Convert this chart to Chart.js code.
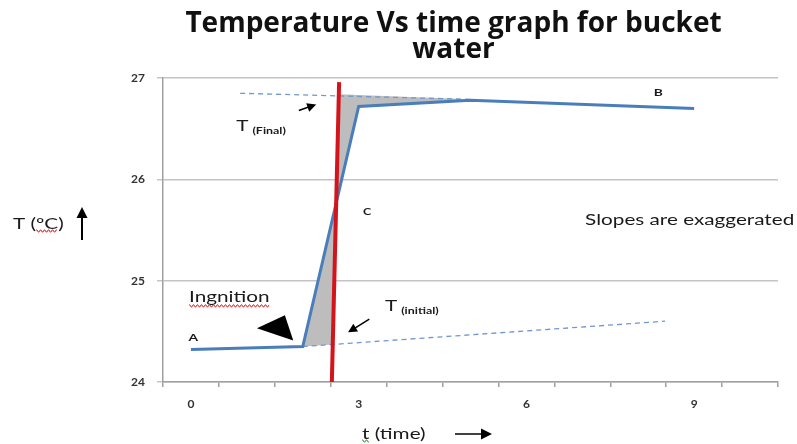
<!DOCTYPE html>
<html>
<head>
<meta charset="utf-8">
<title>Temperature Vs time graph for bucket water</title>
<script src="https://cdn.jsdelivr.net/npm/chart.js"></script>
<style>
html, body { margin: 0; padding: 0; background: #fff; }
</style>
</head>
<body>
<canvas id="temp-chart" width="797" height="444"></canvas>
<script>
// bucket water temperature (category index = time, °C)
const timeSteps = [0, 2, 3, 5, 9];
const bucketTemp = [24.32, 24.35, 26.72, 26.78, 26.70];
// extrapolated lines back to the moment of ignition
const finalLineTime = [0.88, 4.99];
const finalLineTemp = [26.85, 26.79];
const initialLineTime = [2.0, 8.48];
const initialLineTemp = [24.35, 24.60];
// red ignition line
const ignTime = [2.65, 2.52];
const ignTemp = [26.96, 24.0];
// grey equal areas either side of the red line
const upperAreaTime = [2.645, 4.99, 3.0, 2.598, 2.645];
const upperAreaTemp = [26.84, 26.79, 26.72, 25.77, 26.84];
const lowerAreaTime = [2.0, 2.598, 2.536, 2.0];
const lowerAreaTemp = [24.35, 25.77, 24.37, 24.35];
// axes
const xCategories = [0, 1, 2, 3, 4, 5, 6, 7, 8, 9, 10];
const xTickLabels = [0, 3, 6, 9];
const yTicks = [24, 25, 26, 27];

const pts = (xs, ys) => xs.map((x, i) => ({x: x, y: ys[i]}));

const FONT = 'Lato, "Liberation Sans", sans-serif';
const AXIS_GREY = '#a0a0a0';
const GRID_GREY = '#c4c4c4';
const STRETCH = 1.38;   // the source text is wide, so stretch it a bit

// text and arrows drawn over the plot
const notes = {
    id: 'notes',
    afterDraw(chart) {
        const c = chart.ctx, xs = chart.scales.x, ys = chart.scales.y;
        const px = v => xs.getPixelForValue(v), py = v => ys.getPixelForValue(v);

        function text(str, x, y, size, weight, align) {
            c.save();
            c.font = (weight || 'normal') + ' ' + size + 'px ' + FONT;
            c.fillStyle = '#1a1a1a';
            c.textAlign = align || 'left';
            c.textBaseline = 'middle';
            c.translate(x, y);
            c.scale(STRETCH, 1);
            c.fillText(str, 0, 0);
            const w = c.measureText(str).width * STRETCH;
            c.restore();
            return w;
        }
        function wavy(x0, x1, y, color) {
            c.save();
            c.strokeStyle = color; c.lineWidth = 1;
            c.beginPath();
            for (let x = x0; x <= x1; x++) {
                const yy = y + ((x - x0) % 4 < 2 ? -1 : 1);
                if (x === x0) c.moveTo(x, yy); else c.lineTo(x, yy);
            }
            c.stroke();
            c.restore();
        }
        function arrow(x0, y0, x1, y1, head, width) {
            const a = Math.atan2(y1 - y0, x1 - x0);
            c.save();
            c.strokeStyle = '#000'; c.fillStyle = '#000'; c.lineWidth = width;
            c.beginPath();
            c.moveTo(x0, y0);
            c.lineTo(x1 - Math.cos(a) * head * 0.8, y1 - Math.sin(a) * head * 0.8);
            c.stroke();
            c.beginPath();
            c.moveTo(x1, y1);
            c.lineTo(x1 - head * Math.cos(a) + head * 0.5 * Math.sin(a), y1 - head * Math.sin(a) - head * 0.5 * Math.cos(a));
            c.lineTo(x1 - head * Math.cos(a) - head * 0.5 * Math.sin(a), y1 - head * Math.sin(a) + head * 0.5 * Math.cos(a));
            c.closePath();
            c.fill();
            c.restore();
        }

        // point labels
        text('A', px(0.04), py(24.44), 10, 'bold', 'center');
        text('B', px(8.36), py(26.85), 10, 'bold', 'center');
        text('C', px(3.15), py(25.68), 9, 'bold', 'center');

        // ignition + big arrow head
        const w = text('Ingnition', px(-0.035), py(24.84), 15);
        wavy(px(-0.035), px(-0.035) + w, py(24.84) + 9, '#e03030');
        c.beginPath();
        c.moveTo(px(1.18), py(24.53));
        c.lineTo(px(1.68), py(24.66));
        c.lineTo(px(1.83), py(24.41));
        c.closePath();
        c.fillStyle = '#000';
        c.fill();

        // T final
        let tx = px(0.81);
        tx += text('T', tx, py(26.53), 15) + 4;
        text('(Final)', tx, py(26.53) + 5, 9, 'bold');
        arrow(px(1.93), py(26.68), px(2.24), py(26.74), 9, 1.5);

        // T initial
        tx = px(3.47);
        tx += text('T', tx, py(24.75), 15) + 4;
        text('(initial)', tx, py(24.75) + 5, 9, 'bold');
        arrow(px(3.19), py(24.62), px(2.81), py(24.49), 9, 1.5);

        text('Slopes are exaggerated', px(7.05), py(25.6), 15);

        // axis titles
        const yw = text('T (', 13, 224, 15);
        const cw = text('ºC)', 13 + yw, 224, 15);
        wavy(13 + yw, 13 + yw + cw - 6, 231, '#e03030');
        arrow(82, 240, 82, 207, 11, 2);

        text('t (time)', 362, 434, 15);
        wavy(362, 369, 441, '#40a040');
        arrow(455, 434, 492, 434, 11, 1.5);
    }
};

const chart = new Chart(document.getElementById('temp-chart'), {
    type: 'line',
    data: {
        datasets: [
            {label: 'ignition', data: pts(ignTime, ignTemp), borderColor: '#d3151b', borderWidth: 4, pointRadius: 0, order: 0},
            {label: 'bucket water', data: pts(timeSteps, bucketTemp), borderColor: '#4a7ebb', borderWidth: 3, pointRadius: 0, order: 1},
            {label: 'T final', data: pts(finalLineTime, finalLineTemp), borderColor: '#6f98cf', borderWidth: 1.3, borderDash: [5, 4], pointRadius: 0, order: 2},
            {label: 'T initial', data: pts(initialLineTime, initialLineTemp), borderColor: '#6f98cf', borderWidth: 1.3, borderDash: [5, 4], pointRadius: 0, order: 2},
            {label: 'upper area', data: pts(upperAreaTime, upperAreaTemp), fill: 'shape', backgroundColor: '#bdbdbd', borderWidth: 0, borderColor: 'rgba(0,0,0,0)', pointRadius: 0, order: 3},
            {label: 'lower area', data: pts(lowerAreaTime, lowerAreaTemp), fill: 'shape', backgroundColor: '#bdbdbd', borderWidth: 0, borderColor: 'rgba(0,0,0,0)', pointRadius: 0, order: 3}
        ]
    },
    options: {
        responsive: false,
        animation: false,
        devicePixelRatio: 1,
        layout: {padding: {left: 129, right: 19, top: 0, bottom: 32}},
        plugins: {
            legend: {display: false},
            tooltip: {enabled: false},
            title: {
                display: true,
                text: ['Temperature Vs time graph for bucket', 'water'],
                color: '#111',
                font: {family: '"Open Sans", ' + FONT, size: 28, weight: 'bold', lineHeight: 0.93},
                padding: {top: 11, bottom: 15}
            }
        },
        scales: {
            x: {
                type: 'linear',
                min: xCategories[0] - 0.5,
                max: xCategories[xCategories.length - 1] + 0.5,
                afterBuildTicks: s => {
                    const t = [];
                    xCategories.forEach(v => { t.push({value: v - 0.5}); t.push({value: v}); });
                    t.push({value: xCategories[xCategories.length - 1] + 0.5});
                    s.ticks = t;
                },
                afterFit: s => { s.height = 30; },
                ticks: {
                    autoSkip: false, maxRotation: 0, padding: 10,
                    color: '#333', font: {family: FONT, size: 12, weight: 'bold'},
                    callback: v => xTickLabels.includes(v) ? String(v) : ''
                },
                grid: {
                    drawOnChartArea: false, tickLength: 5, lineWidth: 1.5,
                    color: ctx => (ctx.tick && Number.isInteger(ctx.tick.value)) ? 'rgba(0,0,0,0)' : AXIS_GREY
                },
                border: {color: AXIS_GREY, width: 1.5}
            },
            y: {
                min: yTicks[0],
                max: yTicks[yTicks.length - 1],
                afterFit: s => { s.width = 34; },
                ticks: {stepSize: 1, padding: 12, color: '#333', font: {family: FONT, size: 12, weight: 'bold'}},
                grid: {color: GRID_GREY, lineWidth: 1.5, tickLength: 6},
                border: {color: AXIS_GREY, width: 1.5}
            }
        }
    },
    plugins: [notes]
});
</script>
</body>
</html>
